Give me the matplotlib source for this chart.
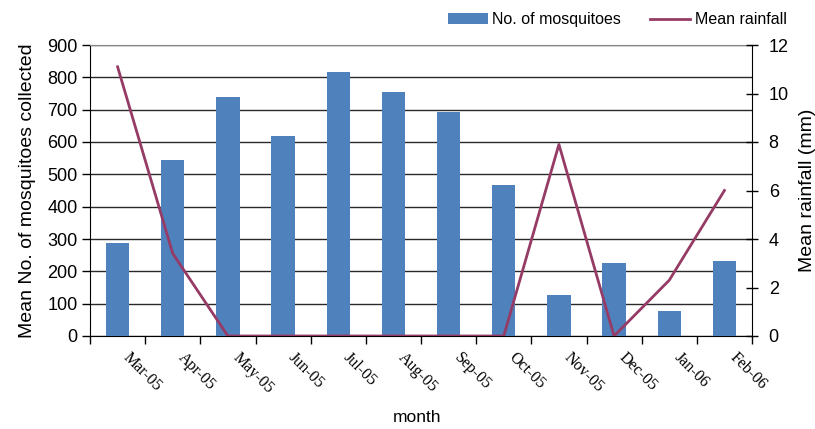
import numpy as np
import matplotlib.pyplot as plt
from matplotlib.patches import Patch
from matplotlib.lines import Line2D

months = ['Mar-05', 'Apr-05', 'May-05', 'Jun-05', 'Jul-05', 'Aug-05',
          'Sep-05', 'Oct-05', 'Nov-05', 'Dec-05', 'Jan-06', 'Feb-06']
mosquitoes = [287, 544, 739, 618, 816, 754, 692, 466, 126, 225, 76, 231]
rainfall = [11.1, 3.4, 0, 0, 0, 0, 0, 0, 7.9, 0, 2.3, 6.0]

bar_color = '#4F81BD'
line_color = '#953B65'

plt.rcParams['font.family'] = ['Liberation Sans', 'DejaVu Sans']

fig = plt.figure(figsize=(8.15, 4.29), dpi=100)
ax = fig.add_axes([90 / 815, 1 - 336 / 429, 662 / 815, 291 / 429])

x = np.arange(len(months))
ax.bar(x, mosquitoes, width=0.42, color=bar_color, zorder=3)
ax.set_xlim(-0.5, len(months) - 0.5)
ax.set_ylim(0, 900)
ax.set_yticks(np.arange(0, 901, 100))
ax.yaxis.grid(True, color='#2a2a2a', linewidth=1.0, zorder=0)
ax.set_axisbelow(True)

# major ticks on category boundaries; labels hang a little right of centre
ax.set_xticks(np.arange(-0.5, len(months), 1.0))
ax.set_xticklabels([])
ax.set_xticks(x + 0.24, minor=True)
ax.set_xticklabels(months, minor=True, rotation=-45, rotation_mode='anchor',
                   ha='left', va='top', fontfamily='Liberation Serif', fontsize=11.5)
ax.tick_params(axis='x', which='minor', length=0, pad=10)
ax.tick_params(axis='x', which='major', length=6, direction='out', width=1)
ax.tick_params(axis='y', length=6, direction='out', width=1, labelsize=13, pad=3)

for side in ['left', 'bottom']:
    ax.spines[side].set_color('black')
ax.spines['top'].set_color('#888888')
ax.spines['right'].set_visible(False)

ax.set_ylabel('Mean No. of mosquitoes collected', fontsize=14, labelpad=8)
fig.text(417 / 815, 1 - 417 / 429, 'month', ha='center', va='center', fontsize=12.5)

ax2 = ax.twinx()
ax2.plot(x, rainfall, color=line_color, linewidth=2.0, zorder=4)
ax2.set_ylim(0, 12)
ax2.set_yticks(np.arange(0, 13, 2))
ax2.tick_params(axis='y', length=8, direction='inout', width=1, labelsize=13, pad=8)
ax2.spines['right'].set_color('black')
ax2.spines['top'].set_visible(False)
ax2.spines['left'].set_visible(False)
ax2.spines['bottom'].set_visible(False)
ax2.set_ylabel('Mean rainfall (mm)', fontsize=14, labelpad=7)

handles = [Patch(facecolor=bar_color), Line2D([0], [0], color=line_color, lw=2.0)]
fig.legend(handles, ['No. of mosquitoes', 'Mean rainfall'], loc='upper right',
           bbox_to_anchor=(801 / 815, 1.005), ncol=2, frameon=False, fontsize=11.5,
           handlelength=2.5, handletextpad=0.3, columnspacing=1.8)

fig.savefig('out.png', dpi=100)
